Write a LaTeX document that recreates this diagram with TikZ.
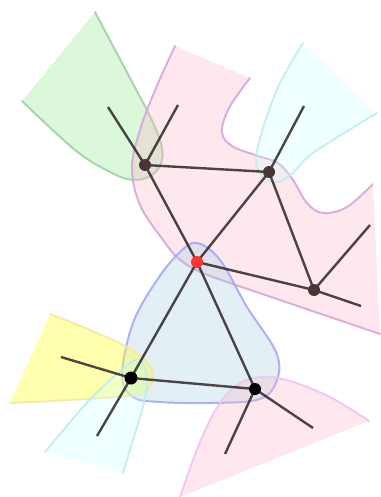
\documentclass[tikz,border=0pt]{standalone}
\usetikzlibrary{positioning}

\definecolor{edgecol}{HTML}{2E2628}
\definecolor{vtxcol}{HTML}{4A3438}
\definecolor{vtxred}{HTML}{FF3333}
\definecolor{grnfill}{HTML}{87E887}
\definecolor{grnline}{HTML}{A3CCA3}
\definecolor{pnkfill}{HTML}{FCB2C3}
\definecolor{pnkline}{HTML}{D5A3DA}
\definecolor{bluefill}{HTML}{9ECDDE}
\definecolor{blueline}{HTML}{A3A3F8}
\definecolor{ylwfill}{HTML}{FFFF2B}
\definecolor{ylwline}{HTML}{F8E6A0}
\definecolor{cyanfill}{HTML}{CDFFFF}
\definecolor{cyanline}{HTML}{BDEEEE}
\definecolor{pnkline2}{HTML}{EEC3F2}

\begin{document}
\begin{tikzpicture}[
    x=1pt, y=-1pt,
    vtx/.style={circle, inner sep=0pt, minimum size=12pt, fill=vtxcol},
    link/.style={draw=edgecol, line width=2.4pt, draw opacity=0.85},
    area/.style={fill opacity=0.3},
    rim/.style={line width=2pt, draw opacity=0.85, line cap=round}
]
    \useasboundingbox (0,0) rectangle (380,497);

    % vertices
    \coordinate (a) at (145,165);
    \coordinate (b) at (269,172);
    \coordinate (c) at (197,262);
    \coordinate (d) at (314,290);
    \coordinate (e) at (131,378);
    \coordinate (f) at (255,389);

    % loose ends
    \coordinate (a1) at (108,107);
    \coordinate (a2) at (178,105);
    \coordinate (b1) at (304,106);
    \coordinate (d1) at (370,225);
    \coordinate (d2) at (361,306);
    \coordinate (e1) at (61,357);
    \coordinate (e2) at (97,436);
    \coordinate (f1) at (225,454);
    \coordinate (f2) at (313,428);

    % green
    \fill[area, grnfill] (95,12) -- (148,112)
        -- plot[smooth, tension=.6] coordinates {(148,112) (160,140) (162,160) (152,175) (133,180) (110,172) (75,150) (22,101)} -- cycle;
    \draw[rim, grnline] (95,12) -- (148,112)
        -- plot[smooth, tension=.6] coordinates {(148,112) (160,140) (162,160) (152,175) (133,180) (110,172) (75,150) (22,101)};

    % big pink
    \fill[area, pnkfill]
        plot[smooth, tension=.6] coordinates {(175,46) (156,88) (140,130) (132,168) (140,205) (163,240) (178,258) (198,271) (230,283) (280,300) (380,334)}
        -- (373,184)
        -- plot[smooth, tension=.6] coordinates {(373,184) (347,207) (323,213) (307,203) (293,180) (278,163) (258,156) (232,146) (222,132) (229,108) (250,78)}
        -- cycle;
    \draw[rim, pnkline]
        plot[smooth, tension=.6] coordinates {(175,46) (156,88) (140,130) (132,168) (140,205) (163,240) (178,258) (198,271) (230,283) (280,300) (380,334)};
    \draw[rim, pnkline]
        plot[smooth, tension=.6] coordinates {(373,184) (347,207) (323,213) (307,203) (293,180) (278,163) (258,156) (232,146) (222,132) (229,108) (250,78)};

    % cyan, top right
    \fill[area, cyanfill]
        plot[smooth, tension=.6] coordinates {(303,43) (280,83) (263,128) (256,160) (263,177) (277,182) (293,173) (313,153) (377,113)} -- cycle;
    \draw[rim, cyanline]
        plot[smooth, tension=.6] coordinates {(303,43) (280,83) (263,128) (256,160) (263,177) (277,182) (293,173) (313,153) (377,113)};

    % blue
    \fill[area, bluefill]
        plot[smooth cycle, tension=.6] coordinates {(197,243) (220,260) (247,307) (276,352) (277,380) (260,399) (213,403) (160,402) (133,397) (122,375) (133,323) (157,280) (180,252)};
    \draw[rim, blueline]
        plot[smooth cycle, tension=.6] coordinates {(197,243) (220,260) (247,307) (276,352) (277,380) (260,399) (213,403) (160,402) (133,397) (122,375) (133,323) (157,280) (180,252)};

    % yellow
    \fill[ylwfill, fill opacity=0.38]
        plot[smooth, tension=.6] coordinates {(50,314) (90,330) (127,347) (147,362) (153,378) (145,392) (128,396) (70,400) (10,403)} -- cycle;
    \draw[rim, ylwline]
        plot[smooth, tension=.6] coordinates {(50,314) (90,330) (127,347) (147,362) (153,378) (145,392) (128,396) (70,400) (10,403)};

    % cyan, bottom left
    \fill[area, cyanfill]
        plot[smooth, tension=.6] coordinates {(45,452) (83,407) (110,380) (133,361) (142,362) (147,382) (143,407) (133,440) (123,473)} -- cycle;
    \draw[rim, cyanline]
        plot[smooth, tension=.6] coordinates {(45,452) (83,407) (110,380) (133,361) (142,362) (147,382) (143,407) (133,440) (123,473)};

    % pink, bottom right
    \fill[area, pnkfill]
        plot[smooth, tension=.6] coordinates {(180,497) (200,442) (220,403) (240,383) (263,377) (290,381) (330,397) (369,421)} -- cycle;
    \draw[rim, pnkline2]
        plot[smooth, tension=.6] coordinates {(180,497) (200,442) (220,403) (240,383) (263,377) (290,381) (330,397) (369,421)};

    \draw[link] (a) -- (b);
    \draw[link] (a) -- (c);
    \draw[link] (b) -- (c);
    \draw[link] (b) -- (d);
    \draw[link] (c) -- (d);
    \draw[link] (c) -- (e);
    \draw[link] (c) -- (f);
    \draw[link] (e) -- (f);
    \draw[link] (a) -- (a1);
    \draw[link] (a) -- (a2);
    \draw[link] (b) -- (b1);
    \draw[link] (d) -- (d1);
    \draw[link] (d) -- (d2);
    \draw[link] (e) -- (e1);
    \draw[link] (e) -- (e2);
    \draw[link] (f) -- (f1);
    \draw[link] (f) -- (f2);

    \node[vtx] (va) at (a) {};
    \node[vtx] (vb) at (b) {};
    \node[vtx, fill=vtxred] (vc) at (c) {};
    \node[vtx] (vd) at (d) {};
    \node[vtx, fill=black, minimum size=13pt] (ve) at (e) {};
    \node[vtx, fill=black] (vf) at (f) {};
\end{tikzpicture}
\end{document}
